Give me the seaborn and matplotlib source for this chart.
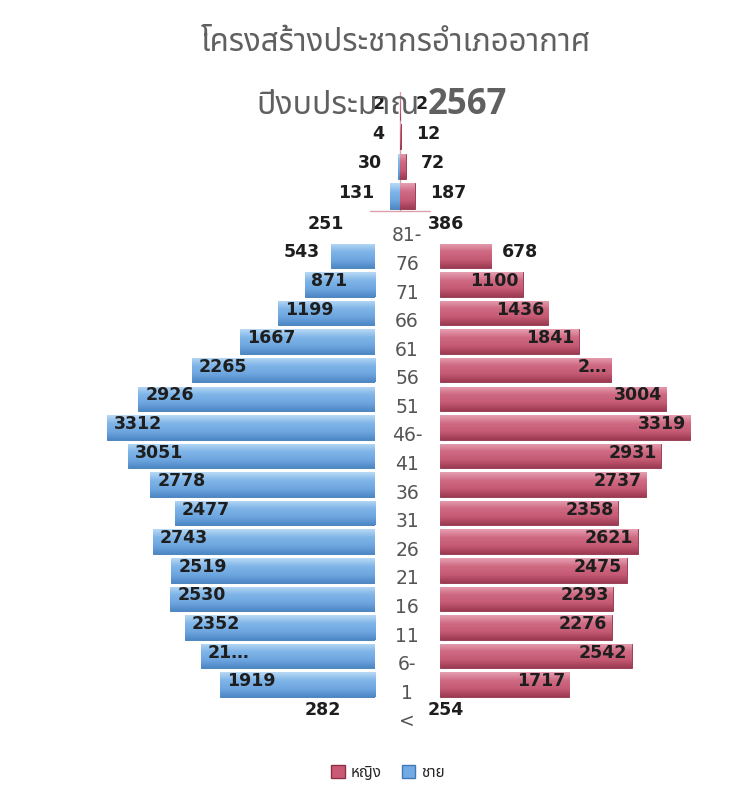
import matplotlib
matplotlib.use("Agg")
import matplotlib.pyplot as plt
import matplotlib.transforms as mtransforms
from matplotlib.patches import Patch
from matplotlib.colors import LinearSegmentedColormap
import numpy as np
import seaborn as sns
import pandas as pd

# ---------------- data ----------------
age_groups = ["100+", "96-100", "91-95", "86-90", "81-85", "76-80", "71-75", "66-70",
              "61-65", "56-60", "51-55", "46-50", "41-45", "36-40", "31-35", "26-30",
              "21-25", "16-20", "11-15", "6-10", "1-5", "<1"]
age_display = ["", "", "", "", "81-", "76", "71", "66", "61", "56", "51", "46-", "41",
               "36", "31", "26", "21", "16", "11", "6-", "1", "<"]
male = [2, 4, 30, 131, 251, 543, 871, 1199, 1667, 2265, 2926, 3312, 3051, 2778, 2477,
        2743, 2519, 2530, 2352, 2150, 1919, 282]
female = [2, 12, 72, 187, 386, 678, 1100, 1436, 1841, 2270, 3004, 3319, 2931, 2737, 2358,
          2621, 2475, 2293, 2276, 2542, 1717, 254]
male_labels = [str(v) for v in male]
male_labels[19] = "21…"
female_labels = [str(v) for v in female]
female_labels[9] = "2…"
title_line1 = "โครงสร้างประชากรอำเภออากาศ"
title_line2a = "ปีงบประมาณ"
title_line2b = "2567"
legend_female = "หญิง"
legend_male = "ชาย"

# ---------------- style ----------------
sns.set_theme(style="white")
plt.rcParams["font.family"] = ["Noto Sans Thai", "DejaVu Sans"]

blue = "#72abe4"
blue_edge = "#3f78b5"
red = "#c95a75"
red_edge = "#8e3048"
title_col = "#606060"
blue_cmap = LinearSegmentedColormap.from_list("b", ["#b9d9f5", "#7fb5e8", "#6ea6df", "#4d88c6"])
red_cmap = LinearSegmentedColormap.from_list("r", ["#e6a0b1", "#cf6a83", "#c55a74", "#9c3a52"])
grad = np.linspace(0, 1, 64).reshape(-1, 1)


def shade(ax, cmap):
    for p in list(ax.patches):
        if not p.get_visible():
            continue
        x0, y0, w, h = p.get_x(), p.get_y(), p.get_width(), p.get_height()
        im = ax.imshow(grad, extent=[x0, x0 + w, y0 + h, y0], origin="upper",
                       aspect="auto", cmap=cmap, zorder=p.get_zorder() + 0.1,
                       interpolation="bilinear")
        im.set_clip_path(p)


fig = plt.figure(figsize=(7.4, 7.91), dpi=100)
W, H = 740, 791

n_top = 4                       # oldest groups drawn in the small centred block
main_groups = age_groups[n_top:]
top_groups = age_groups[:n_top]

# main pyramid
top_px, bot_px = 213.0, 727.5
axL = fig.add_axes([100 / W, 1 - bot_px / H, 275 / W, (bot_px - top_px) / H])
axR = fig.add_axes([440 / W, 1 - bot_px / H, 260 / W, (bot_px - top_px) / H])
dfm = pd.DataFrame({"age": main_groups, "value": male[n_top:]})
dff = pd.DataFrame({"age": main_groups, "value": female[n_top:]})
sns.barplot(data=dfm, x="value", y="age", order=main_groups, orient="h", ax=axL,
            color=blue, width=0.86, edgecolor=blue_edge, linewidth=0.6, saturation=1)
sns.barplot(data=dff, x="value", y="age", order=main_groups, orient="h", ax=axR,
            color=red, width=0.86, edgecolor=red_edge, linewidth=0.6, saturation=1)
hidden = (0, len(main_groups) - 1)   # 81-85 and <1 bars are not visible in the source
for ax, cmap in ((axL, blue_cmap), (axR, red_cmap)):
    for k in hidden:
        ax.patches[k].set_visible(False)
    shade(ax, cmap)
axL.set_xlim(3400, 0)
axR.set_xlim(0, 3450)
for ax in (axL, axR):
    ax.set_ylim(len(main_groups) - 0.5, -0.5)
    ax.axis("off")

lab_kw = dict(fontsize=12.5, fontweight="bold", color="#1e1e1e", va="center",
              family="DejaVu Sans", textcoords="offset points", zorder=5)
for j, g in enumerate(main_groups):
    i = j + n_top
    v, t = male[i], male_labels[i]
    if v > 700:
        axL.annotate(t, xy=(v, j - 0.12), xytext=(5, 0), ha="left", **lab_kw)
    else:
        axL.annotate(t, xy=(v, j - 0.12), xytext=(-8, 0), ha="right", **lab_kw)
    v, t = female[i], female_labels[i]
    if j in hidden:
        axR.annotate(t, xy=(0, j - 0.12), xytext=(-9, 0), ha="left", **lab_kw)
    elif v > 800:
        axR.annotate(t, xy=(v, j - 0.12), xytext=(-3, 0), ha="right", **lab_kw)
    else:
        axR.annotate(t, xy=(v, j - 0.12), xytext=(8, 0), ha="left", **lab_kw)

trans = mtransforms.blended_transform_factory(fig.transFigure, axL.transData)
for j, t in enumerate(age_display[n_top:]):
    if t:
        fig.text(407 / W, j + 0.3, t, transform=trans, ha="center", va="center",
                 fontsize=13.5, color="#555555", family="DejaVu Sans")

# small centred block for the oldest groups
t_top, t_bot = 92.0, 211.0
axT = fig.add_axes([300 / W, 1 - t_bot / H, 200 / W, (t_bot - t_top) / H])
dtm = pd.DataFrame({"age": top_groups, "value": [-v for v in male[:n_top]]})
dtf = pd.DataFrame({"age": top_groups, "value": female[:n_top]})
sns.barplot(data=dtm, x="value", y="age", order=top_groups, orient="h", ax=axT,
            color=blue, width=0.86, edgecolor=blue_edge, linewidth=0.6, saturation=1)
nb = len(axT.patches)
sns.barplot(data=dtf, x="value", y="age", order=top_groups, orient="h", ax=axT,
            color=red, width=0.86, edgecolor=red_edge, linewidth=0.6, saturation=1)
for k, p in enumerate(list(axT.patches)):
    x0, y0, w, h = p.get_x(), p.get_y(), p.get_width(), p.get_height()
    im = axT.imshow(grad, extent=[x0, x0 + w, y0 + h, y0], origin="upper",
                    aspect="auto", cmap=blue_cmap if k < nb else red_cmap,
                    zorder=p.get_zorder() + 0.1, interpolation="bilinear")
    im.set_clip_path(p)
axT.set_xlim(-1250, 1250)
axT.set_ylim(n_top - 0.5, -0.5)
axT.axis("off")
axT.axvline(0, color="#d9a0ad", lw=1.0, zorder=0)
axT.plot([-380, 380], [n_top - 0.5, n_top - 0.5], color="#d9a0ad", lw=1.0,
         clip_on=False)
for i in range(n_top):
    axT.annotate(male_labels[i], xy=(-male[i], i - 0.1), xytext=(-11, 0), ha="right",
                 **lab_kw)
    axT.annotate(female_labels[i], xy=(female[i], i - 0.1), xytext=(11, 0), ha="left",
                 **lab_kw)

# titles
fig.text(396 / W, 1 - 43 / H, title_line1, ha="center", va="center", fontsize=22.5,
         color=title_col)
fig.text(420 / W, 1 - 105 / H, title_line2a, ha="right", va="center", fontsize=23,
         color=title_col, zorder=0)
fig.text(428 / W, 1 - 105 / H, title_line2b, ha="left", va="center", fontsize=25,
         color=title_col, fontweight="bold", family="Open Sans", zorder=0)

handles = [Patch(facecolor=red, edgecolor=red_edge, label=legend_female),
           Patch(facecolor=blue, edgecolor=blue_edge, label=legend_male)]
fig.legend(handles=handles, loc="center", bbox_to_anchor=(388 / W, 1 - 773 / H), ncol=2,
           frameon=False, handlelength=0.9, handleheight=0.9,
           handletextpad=0.4, columnspacing=1.3,
           prop={"family": ["Noto Sans Thai", "DejaVu Sans"], "weight": "bold",
                 "size": 11})

fig.savefig("out.png", dpi=100)
